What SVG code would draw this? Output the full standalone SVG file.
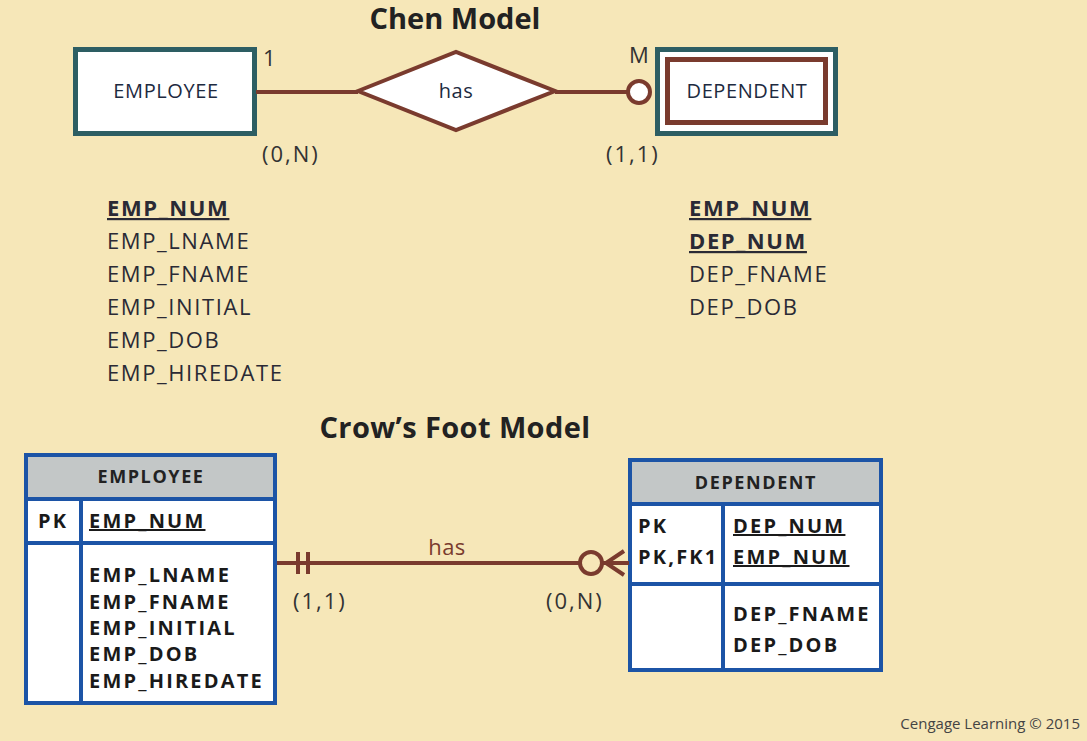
<svg xmlns="http://www.w3.org/2000/svg" width="1087" height="741" viewBox="0 0 1087 741">
<style>
.t{font-family:"Open Sans","DejaVu Sans",sans-serif;fill:#2a2a35}
.title{font-family:"Open Sans","DejaVu Sans",sans-serif;font-weight:bold;font-size:29px;fill:#222}
.chen{font-size:20px;fill:#1d2a40;letter-spacing:0.6px}
.attr{font-size:22px;letter-spacing:1.6px}
.card{font-size:22px;fill:#333;letter-spacing:2px}
.cf{font-weight:bold;font-size:20px;letter-spacing:2.2px;fill:#1a1a1a}
.hdr{font-weight:bold;font-size:18px;fill:#222;letter-spacing:1.6px}
.teal{fill:#fff;stroke:#2D5E63;stroke-width:5}
.tbl{fill:none;stroke:#1C54A6;stroke-width:4}
.conn{stroke:#7A3B2E;stroke-width:4;fill:none}
</style>
<rect x="0" y="0" width="1087" height="741" fill="#F6E7B8"/>
<text class="title" x="455" y="29" text-anchor="middle">Chen Model</text>
<text class="title" x="455" y="438" text-anchor="middle" style="letter-spacing:0.4px">Crow’s Foot Model</text>

<g id="chen-employee">
<rect class="teal" x="75.5" y="49.5" width="179" height="84"/>
<text class="t chen" x="166" y="98" text-anchor="middle">EMPLOYEE</text>
</g>
<g id="chen-has">
<polygon points="358,91 456,52 555,91 456,130" fill="#fff" stroke="#7A3B2E" stroke-width="4"/>
<text class="t chen" x="456" y="98" text-anchor="middle">has</text>
</g>
<g id="chen-dependent">
<rect class="teal" x="657.5" y="49.5" width="178" height="84"/>
<rect x="667.5" y="59.5" width="158" height="63" fill="#fff" stroke="#7A3B2E" stroke-width="5"/>
<text class="t chen" x="747" y="98" text-anchor="middle">DEPENDENT</text>
</g>
<g id="chen-connectors">
<line class="conn" x1="256" y1="92" x2="358" y2="92"/>
<line class="conn" x1="555" y1="92" x2="627" y2="92"/>
<circle cx="639" cy="92" r="11" fill="#fff" stroke="#7A3B2E" stroke-width="4"/>
</g>
<g id="chen-labels">
<text class="t card" x="263" y="66">1</text>
<text class="t card" x="629" y="63">M</text>
<text class="t card" x="262" y="162">(0,N)</text>
<text class="t card" x="606" y="162">(1,1)</text>
</g>
<g id="chen-emp-attrs">
<text class="t attr" x="107" y="216" font-weight="bold" text-decoration="underline">EMP_NUM</text>
<text class="t attr" x="107" y="249">EMP_LNAME</text>
<text class="t attr" x="107" y="282">EMP_FNAME</text>
<text class="t attr" x="107" y="315">EMP_INITIAL</text>
<text class="t attr" x="107" y="348">EMP_DOB</text>
<text class="t attr" x="107" y="381">EMP_HIREDATE</text>
</g>
<g id="chen-dep-attrs">
<text class="t attr" x="689" y="216" font-weight="bold" text-decoration="underline">EMP_NUM</text>
<text class="t attr" x="689" y="249" font-weight="bold" text-decoration="underline">DEP_NUM</text>
<text class="t attr" x="689" y="282">DEP_FNAME</text>
<text class="t attr" x="689" y="315">DEP_DOB</text>
</g>

<g id="cf-employee">
<rect x="26" y="455" width="249" height="43" fill="#C3C7C7"/>
<rect x="26" y="498" width="249" height="205" fill="#fff"/>
<rect class="tbl" x="26" y="455" width="249" height="248"/>
<line class="tbl" x1="26" y1="499" x2="275" y2="499"/>
<line class="tbl" x1="26" y1="543" x2="275" y2="543"/>
<line class="tbl" x1="81" y1="499" x2="81" y2="703"/>
<text class="t hdr" x="151" y="483" text-anchor="middle">EMPLOYEE</text>
<text class="t cf" x="38" y="528">PK</text>
<text class="t cf" x="89" y="528" text-decoration="underline">EMP_NUM</text>
<text class="t cf" x="89" y="582">EMP_LNAME</text>
<text class="t cf" x="89" y="609">EMP_FNAME</text>
<text class="t cf" x="89" y="635">EMP_INITIAL</text>
<text class="t cf" x="89" y="661">EMP_DOB</text>
<text class="t cf" x="89" y="688">EMP_HIREDATE</text>
</g>
<g id="cf-dependent">
<rect x="630" y="460" width="251" height="43" fill="#C3C7C7"/>
<rect x="630" y="503" width="251" height="167" fill="#fff"/>
<rect class="tbl" x="630" y="460" width="251" height="210"/>
<line class="tbl" x1="630" y1="504" x2="881" y2="504"/>
<line class="tbl" x1="630" y1="584" x2="881" y2="584"/>
<line class="tbl" x1="723" y1="504" x2="723" y2="670"/>
<text class="t hdr" x="756" y="489" text-anchor="middle">DEPENDENT</text>
<text class="t cf" x="638" y="533">PK</text>
<text class="t cf" x="638" y="564">PK,FK1</text>
<text class="t cf" x="733" y="533" text-decoration="underline">DEP_NUM</text>
<text class="t cf" x="733" y="564" text-decoration="underline">EMP_NUM</text>
<text class="t cf" x="733" y="621">DEP_FNAME</text>
<text class="t cf" x="733" y="652">DEP_DOB</text>
</g>
<g id="cf-connectors">
<line class="conn" x1="277" y1="563" x2="579" y2="563"/>
<line class="conn" x1="298" y1="552" x2="298" y2="574"/>
<line class="conn" x1="308" y1="552" x2="308" y2="574"/>
<circle cx="591" cy="563" r="11" fill="none" stroke="#7A3B2E" stroke-width="4"/>
<line class="conn" x1="603" y1="563" x2="629" y2="563"/>
<polyline class="conn" points="624,551 606,563 624,575"/>
</g>
<g id="cf-labels">
<text class="t" x="447" y="555" text-anchor="middle" font-size="22" style="fill:#7A3B2E;letter-spacing:0.5px">has</text>
<text class="t card" x="293" y="609">(1,1)</text>
<text class="t card" x="546" y="609">(0,N)</text>
</g>
<text class="t" x="1080" y="729" text-anchor="end" font-size="15" style="fill:#444">Cengage Learning © 2015</text>
</svg>
